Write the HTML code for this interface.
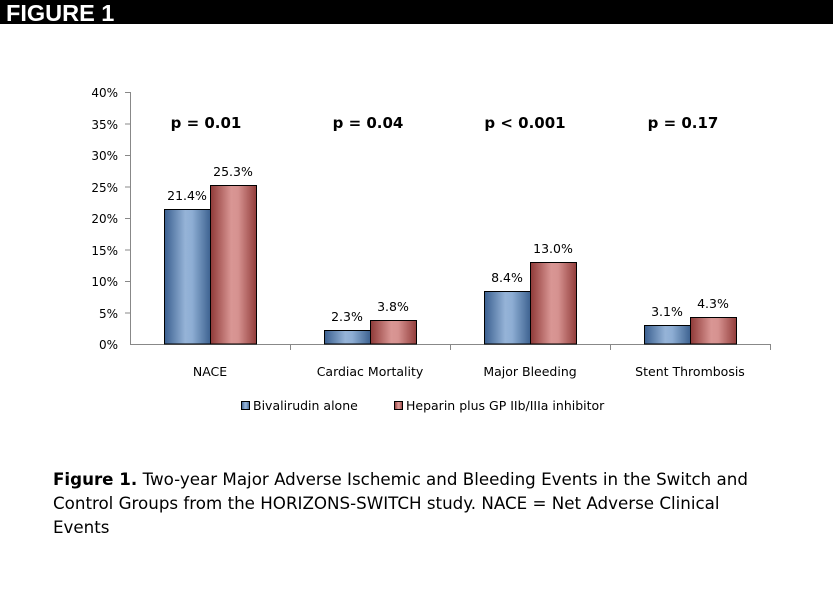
<!DOCTYPE html>
<html><head><meta charset="utf-8"><style>
body{margin:0;background:#fff;width:833px;height:587px;overflow:hidden;font-family:"DejaVu Sans","Liberation Sans",sans-serif}
</style></head><body>
<svg width="833" height="587" xmlns="http://www.w3.org/2000/svg">
<defs>
<linearGradient id="b" x1="0" x2="1" y1="0" y2="0">
<stop offset="0" stop-color="#3a5f8f"/><stop offset="0.45" stop-color="#95b3d7"/><stop offset="0.6" stop-color="#8eaed4"/><stop offset="1" stop-color="#3d6290"/></linearGradient>
<linearGradient id="r" x1="0" x2="1" y1="0" y2="0">
<stop offset="0" stop-color="#8f3a38"/><stop offset="0.45" stop-color="#d99694"/><stop offset="0.6" stop-color="#d69290"/><stop offset="1" stop-color="#923d3b"/></linearGradient>
</defs>
<rect x="0" y="0" width="833" height="24" fill="#000"/>
<text x="6" y="21" font-family="Liberation Sans" font-weight="bold" font-size="23.5" fill="#fff">FIGURE 1</text>
<g stroke="#888" stroke-width="1">
<line x1="130.5" y1="92" x2="130.5" y2="344"/>
<line x1="130" y1="344.5" x2="770" y2="344.5"/>
<line x1="125" y1="92.5" x2="130" y2="92.5"/><line x1="125" y1="124" x2="130" y2="124"/><line x1="125" y1="155.5" x2="130" y2="155.5"/><line x1="125" y1="187" x2="130" y2="187"/><line x1="125" y1="218.5" x2="130" y2="218.5"/><line x1="125" y1="250" x2="130" y2="250"/><line x1="125" y1="281.5" x2="130" y2="281.5"/><line x1="125" y1="313" x2="130" y2="313"/>
<line x1="290.5" y1="344" x2="290.5" y2="350"/><line x1="450.5" y1="344" x2="450.5" y2="350"/><line x1="610.5" y1="344" x2="610.5" y2="350"/><line x1="770.5" y1="344" x2="770.5" y2="350"/>
</g>
<g font-size="12" fill="#000" text-anchor="end">
<text x="118" y="97">40%</text><text x="118" y="129">35%</text><text x="118" y="160">30%</text><text x="118" y="192">25%</text><text x="118" y="223">20%</text><text x="118" y="255">15%</text><text x="118" y="286">10%</text><text x="118" y="318">5%</text><text x="118" y="349">0%</text>
</g>
<g stroke="#000" stroke-width="1">
<rect x="164.5" y="209.5" width="46" height="134.5" fill="url(#b)"/>
<rect x="210.5" y="185.5" width="46" height="158.5" fill="url(#r)"/>
<rect x="324.5" y="330.5" width="46" height="13.5" fill="url(#b)"/>
<rect x="370.5" y="320.5" width="46" height="23.5" fill="url(#r)"/>
<rect x="484.5" y="291.5" width="46" height="52.5" fill="url(#b)"/>
<rect x="530.5" y="262.5" width="46" height="81.5" fill="url(#r)"/>
<rect x="644.5" y="325.5" width="46" height="18.5" fill="url(#b)"/>
<rect x="690.5" y="317.5" width="46" height="26.5" fill="url(#r)"/>
</g>
<g font-size="12.5" fill="#000" text-anchor="middle">
<text x="187" y="200">21.4%</text><text x="233" y="176">25.3%</text>
<text x="347" y="321">2.3%</text><text x="393" y="311">3.8%</text>
<text x="507" y="282">8.4%</text><text x="553" y="253">13.0%</text>
<text x="667" y="316">3.1%</text><text x="713" y="308">4.3%</text>
<text x="210" y="376">NACE</text><text x="370" y="376">Cardiac Mortality</text><text x="530" y="376">Major Bleeding</text><text x="690" y="376">Stent Thrombosis</text>
</g>
<g font-size="15" font-weight="bold" fill="#000" text-anchor="middle">
<text x="206" y="128">p = 0.01</text><text x="368" y="128">p = 0.04</text><text x="525" y="128">p &lt; 0.001</text><text x="683" y="128">p = 0.17</text>
</g>
<rect x="241.5" y="401.5" width="8" height="8" fill="url(#b)" stroke="#000"/>
<text x="253" y="410" font-size="12.5">Bivalirudin alone</text>
<rect x="394.5" y="401.5" width="8" height="8" fill="url(#r)" stroke="#000"/>
<text x="406" y="410" font-size="12.5">Heparin plus GP IIb/IIIa inhibitor</text>
<g font-size="16.7" fill="#000">
<text x="53" y="485"><tspan font-weight="bold">Figure 1.</tspan> Two-year Major Adverse Ischemic and Bleeding Events in the Switch and</text>
<text x="53" y="509">Control Groups from the HORIZONS-SWITCH study. NACE = Net Adverse Clinical</text>
<text x="53" y="533">Events</text>
</g>
</svg>
</body></html>
